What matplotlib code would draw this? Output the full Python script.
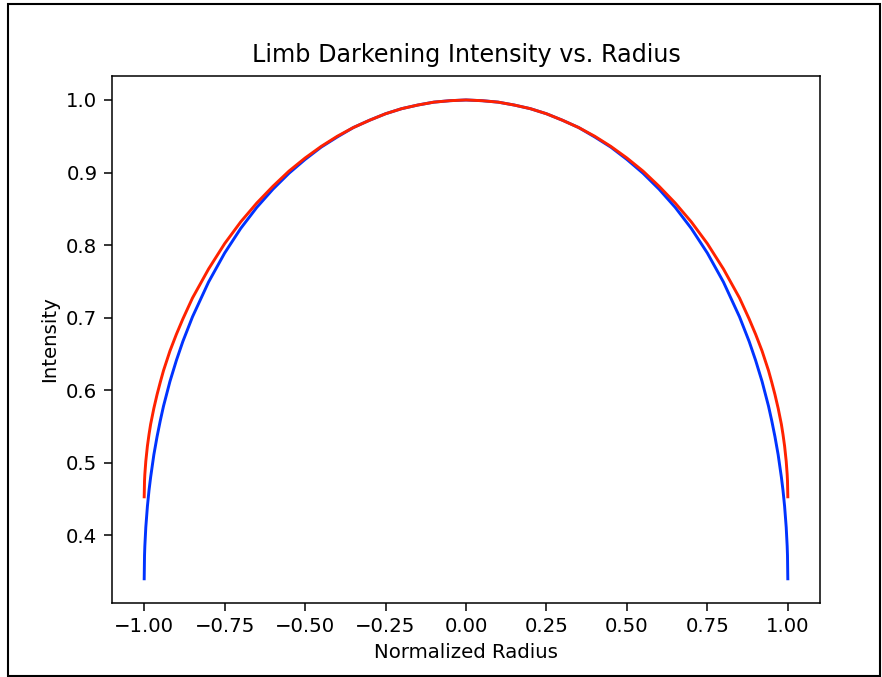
import numpy as np
import matplotlib
matplotlib.use('Agg')
import matplotlib.pyplot as plt
from matplotlib.patches import Rectangle

# radius values (right half, the curves are symmetric about 0)
radius_half = [0.0, 0.05, 0.1, 0.15, 0.2, 0.25, 0.3, 0.35, 0.4, 0.45, 0.5,
               0.55, 0.6, 0.65, 0.7, 0.75, 0.8, 0.85, 0.88, 0.9, 0.92, 0.94,
               0.95, 0.96, 0.97, 0.98, 0.985, 0.99, 0.995, 0.998, 0.999, 1.0]

# intensity
blue_half = [1.000, 0.999, 0.997, 0.993, 0.988, 0.981, 0.972, 0.962, 0.949,
             0.935, 0.918, 0.899, 0.877, 0.852, 0.823, 0.789, 0.749, 0.701,
             0.667, 0.641, 0.612, 0.578, 0.558, 0.536, 0.511, 0.480, 0.462,
             0.440, 0.411, 0.385, 0.372, 0.340]
red_half = [1.000, 0.999, 0.997, 0.993, 0.988, 0.981, 0.972, 0.962, 0.950,
            0.936, 0.920, 0.902, 0.881, 0.858, 0.832, 0.802, 0.767, 0.727,
            0.698, 0.677, 0.654, 0.627, 0.611, 0.594, 0.575, 0.553, 0.539,
            0.523, 0.502, 0.484, 0.475, 0.453]

x_ticks = [-1.00, -0.75, -0.50, -0.25, 0.00, 0.25, 0.50, 0.75, 1.00]
y_ticks = [0.4, 0.5, 0.6, 0.7, 0.8, 0.9, 1.0]

r = np.concatenate([-np.array(radius_half[::-1]), np.array(radius_half[1:])])
blue = np.concatenate([blue_half[::-1], blue_half[1:]])
red = np.concatenate([red_half[::-1], red_half[1:]])

fig = plt.figure(figsize=(8.82, 6.77), dpi=100)
ax = fig.add_axes([0.127, 0.1097, 0.8027, 0.778])

ax.plot(r, blue, color='#0033ff', linewidth=2.1)
ax.plot(r, red, color='#ff2200', linewidth=2.1)

ax.set_xticks(x_ticks)
ax.set_xticklabels([f'{t:.2f}'.replace('-', '\u2212') for t in x_ticks])
ax.set_yticks(y_ticks)
ax.set_yticklabels([f'{t:.1f}' for t in y_ticks])
ax.tick_params(labelsize=14.2, length=5.5, width=1.1, pad=5)
for s in ax.spines.values():
    s.set_linewidth(1.1)

ax.set_title('Limb Darkening Intensity vs. Radius', fontsize=17.2, pad=10)
ax.set_xlabel('Normalized Radius', fontsize=14.2, labelpad=5)
ax.set_ylabel('Intensity', fontsize=14.2, labelpad=5)

# black frame around the whole figure
fig.patches.append(Rectangle((0.009, 0.0015), 0.989, 0.9925, transform=fig.transFigure,
                             fill=False, edgecolor='black', linewidth=1.5))

fig.savefig('out.png', dpi=100)
